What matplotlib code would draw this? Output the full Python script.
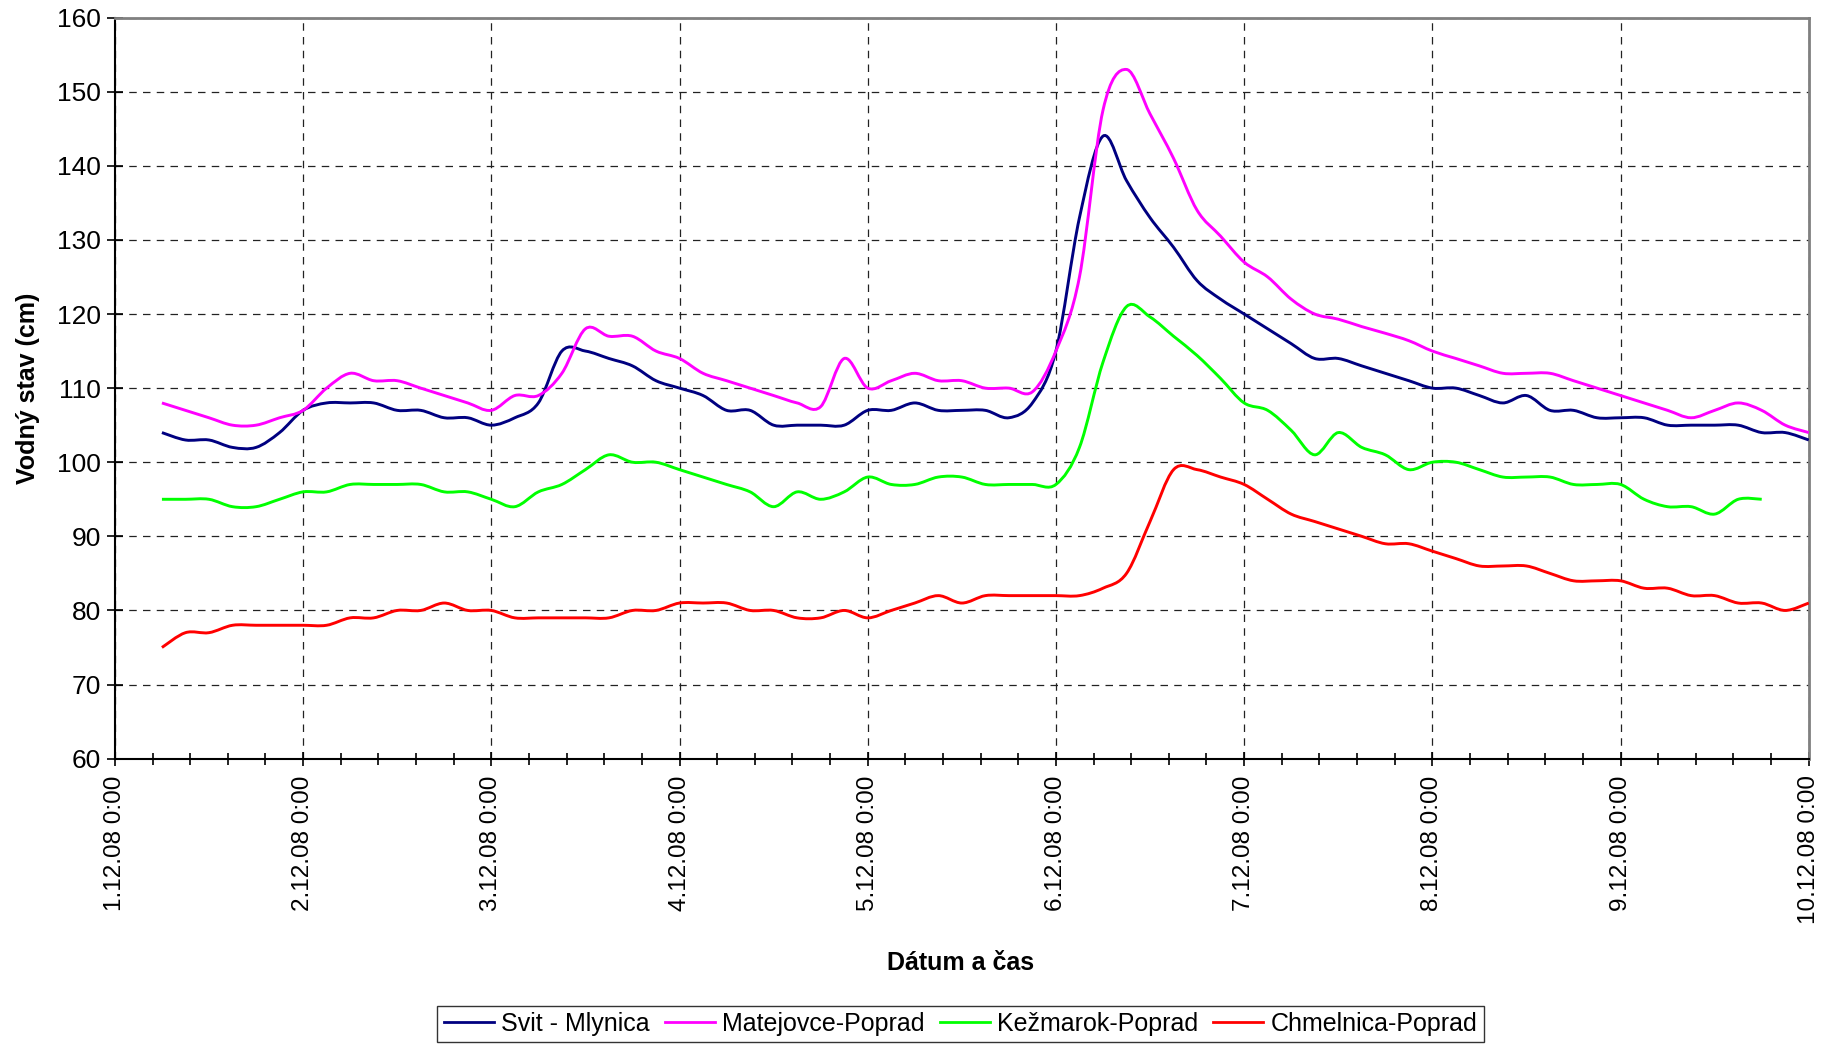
import numpy as np
import pandas as pd
import matplotlib
matplotlib.use("Agg")
import matplotlib.pyplot as plt
import matplotlib.dates as mdates
from matplotlib.path import Path
from matplotlib.patches import PathPatch
from matplotlib.lines import Line2D
from matplotlib.ticker import MultipleLocator, FuncFormatter

plt.rcParams['font.family'] = ['Liberation Sans', 'DejaVu Sans']

# 3-hour readings, 1.12.2008 6:00 .. 10.12.2008 0:00
times = pd.date_range('2008-12-01 06:00', '2008-12-10 00:00', freq='3h')

svit = [104, 103, 103, 102, 102, 104, 107, 108, 108, 108, 107, 107, 106,
        106, 105, 106, 108, 115, 115, 114, 113, 111, 110, 109, 107, 107, 105, 105,
        105, 105, 107, 107, 108, 107, 107, 107, 106, 108,
        115, 133, 144, 138, 133, 129, 124.5, 122, 120, 118, 116, 114, 114, 113, 112, 111, 110,
        110, 109, 108, 109, 107, 107, 106, 106, 106, 105, 105, 105, 105, 104, 104, 103]

matejovce = [108, 107, 106, 105, 105, 106, 107, 110, 112, 111, 111, 110, 109,
             108, 107, 109, 109, 112, 118, 117, 117, 115, 114, 112, 111, 110, 109, 108,
             107.5, 114, 110, 111, 112, 111, 111, 110, 110, 109.5,
             115, 125, 147.5, 153, 147, 141, 134, 130.5, 127, 125, 122, 120, 119.3, 118.3, 117.4, 116.4, 115,
             114, 113, 112, 112, 112, 111, 110, 109, 108, 107, 106, 107, 108, 107, 105, 104]

kezmarok = [95, 95, 95, 94, 94, 95, 96, 96, 97, 97, 97, 97, 96,
            96, 95, 94, 96, 97, 99, 101, 100, 100, 99, 98, 97, 96, 94, 96,
            95, 96, 98, 97, 97, 98, 98, 97, 97, 97,
            97, 102, 113.5, 121, 119.6, 117, 114.4, 111.3, 108, 107, 104.3, 101, 104, 102, 101, 99, 100,
            100, 99, 98, 98, 98, 97, 97, 97, 95, 94, 94, 93, 95, 95, np.nan, np.nan]

chmelnica = [75, 77, 77, 78, 78, 78, 78, 78, 79, 79, 80, 80, 81,
             80, 80, 79, 79, 79, 79, 79, 80, 80, 81, 81, 81, 80, 80, 79,
             79, 80, 79, 80, 81, 82, 81, 82, 82, 82,
             82, 82, 83, 85, 92, 99, 99, 98, 97, 95, 93, 92, 91, 90, 89, 89, 88,
             87, 86, 86, 86, 85, 84, 84, 84, 83, 83, 82, 82, 81, 81, 80, 81]

names = ['Svit - Mlynica', 'Matejovce-Poprad', 'Kežmarok-Poprad', 'Chmelnica-Poprad']
colors = ['#000080', '#FF00FF', '#00FF00', '#FF0000']


def smooth_path(x, y):
    # Excel-style smoothed line: cubic Bezier through every point
    ok = ~np.isnan(y)
    pts = np.column_stack([x[ok], y[ok]])
    n = len(pts)
    verts = [pts[0]]
    codes = [Path.MOVETO]
    for i in range(n - 1):
        p0 = pts[max(i - 1, 0)]
        p1 = pts[i]
        p2 = pts[i + 1]
        p3 = pts[min(i + 2, n - 1)]
        verts += [p1 + (p2 - p0) / 6, p2 - (p3 - p1) / 6, p2]
        codes += [Path.CURVE4] * 3
    return Path(verts, codes)


fig = plt.figure(figsize=(18.38, 10.46), dpi=100)
ax = fig.add_axes([0.0625, 0.2747, 0.9216, 0.7085])

xnum = mdates.date2num(times.to_pydatetime())
for vals, c in zip([svit, matejovce, kezmarok, chmelnica], colors):
    p = smooth_path(xnum, np.array(vals, dtype=float))
    ax.add_patch(PathPatch(p, facecolor='none', edgecolor=c, lw=2.1, zorder=3))

x0 = mdates.date2num(pd.Timestamp('2008-12-01').to_pydatetime())
x1 = mdates.date2num(pd.Timestamp('2008-12-10').to_pydatetime())
ax.set_xlim(x0, x1)
ax.set_ylim(60, 160)

ax.yaxis.set_major_locator(MultipleLocator(10))
ax.xaxis.set_major_locator(MultipleLocator(1))
ax.xaxis.set_minor_locator(MultipleLocator(0.2))


def fmt_date(v, pos):
    d = mdates.num2date(v)
    return f"{d.day}.{d.month}.{d:%y} {d.hour}:{d:%M}"


ax.xaxis.set_major_formatter(FuncFormatter(fmt_date))
ax.tick_params(axis='x', which='major', direction='inout', length=10, width=1.2,
               labelsize=17.5, pad=7, labelrotation=90)
ax.tick_params(axis='x', which='minor', direction='inout', length=9, width=1.2)
ax.tick_params(axis='y', which='major', direction='inout', length=12, width=1.2,
               labelsize=19, pad=4)

ax.grid(True, which='major', color='#222222', linestyle=(0, (6, 5)), lw=0.9)
ax.set_axisbelow(True)

for s in ['left', 'bottom']:
    ax.spines[s].set_color('black')
    ax.spines[s].set_linewidth(1.5)
for s in ['top', 'right']:
    ax.spines[s].set_color('#808080')
    ax.spines[s].set_linewidth(2)

ax.set_ylabel('Vodný stav (cm)', fontsize=18, fontweight='bold')
ax.yaxis.set_label_coords(-0.044, 0.5)
ax.set_xlabel('Dátum a čas', fontsize=18, fontweight='bold')
ax.xaxis.set_label_coords(0.4995, -0.259)

handles = [Line2D([], [], color=c, lw=2.0) for c in colors]
leg = fig.legend(handles, names, loc='center', bbox_to_anchor=(0.5226, 0.021),
                 ncol=4, fontsize=18, frameon=True, fancybox=False,
                 edgecolor='black', handlelength=2.0, handletextpad=0.3,
                 columnspacing=0.6, borderpad=0.25, borderaxespad=0)
leg.get_frame().set_linewidth(1.0)

fig.savefig('out.png', dpi=100)
